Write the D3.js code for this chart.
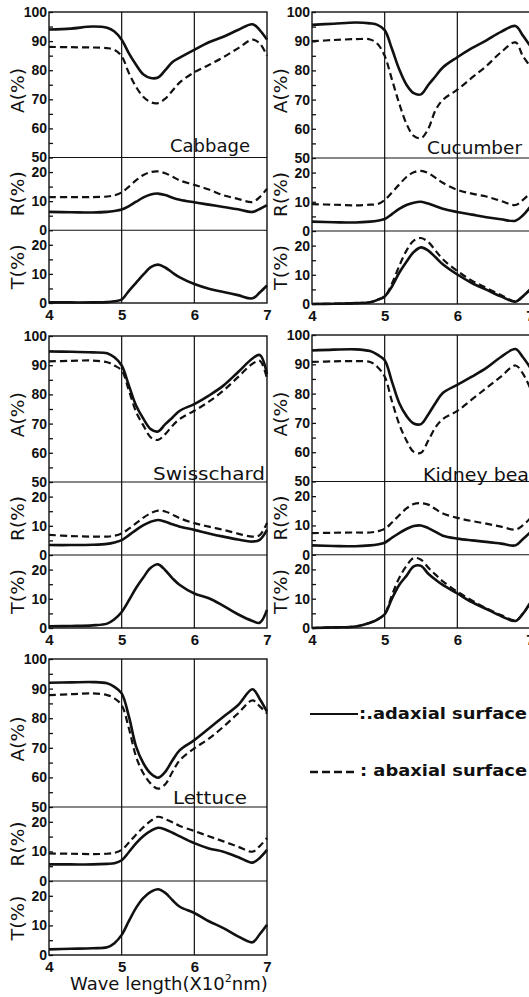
<!DOCTYPE html>
<html><head><meta charset="utf-8">
<script src="https://cdn.jsdelivr.net/npm/d3@7"></script>
<style>body{margin:0;background:#fff}svg{display:block}</style>
</head><body>
<svg id="c" width="529" height="997"></svg>
<script>
// ---------- DATA ----------
const wavelengths = [4.0,4.3,4.6,4.8,4.9,5.0,5.1,5.2,5.3,5.4,5.5,5.6,5.7,5.8,6.0,6.2,6.4,6.6,6.8,6.9,7.0];
const xTickValues = [4,5,6,7];
const gridWavelengths = [5,6];
const aTickValues = [50,55,60,65,70,75,80,85,90,95,100];
const rTickValues = [0,5,10,15,20];
const tTickValues = [0,5,10,15,20];
const plantNames = ["Cabbage","Cucumber","Swisschard","Kidney bean","Lettuce"];
const legendLabels = [":.adaxial surface",": abaxial surface"];

// Cabbage
const cabbageA_ad = [94,94.3,95,94.6,93.3,90.5,85.8,81.8,78.5,77.3,77.5,80,82.8,84.3,87,89.6,91.5,93.8,95.8,93.8,90.5];
const cabbageA_ab = [88,87.9,87.8,87.6,87,84.8,79,74.2,70.8,69,68.7,70.2,73,75.8,79.3,81.8,84.5,87.5,90.5,89.2,85];
const cabbageR_ad = [6.3,6.2,6.1,6.3,6.6,7.1,8.3,9.8,11.3,12.3,12.6,12.1,11.2,10.5,9.6,8.8,8,7.2,6.3,7.3,8.6];
const cabbageR_ab = [11.4,11.4,11.4,11.6,12,13,15,17.2,19,20,20.2,19.6,18.4,17.1,15.6,14,12,10.8,9.7,11.4,14.3];
const cabbageT_ad = [0.2,0.2,0.2,0.3,0.6,1.2,4.2,7,9.8,12.3,13.2,12.2,10.4,8.8,6.5,4.9,3.8,2.7,1.6,3.6,6];
// Cucumber
const cucumberA_ad = [95.6,96,96.4,96.1,95.6,93.8,87.4,80.4,75.1,72.2,71.8,75,78,81,84.5,87.6,90.3,93.2,95.2,92,88.5];
const cucumberA_ab = [90,90.4,90.7,90.6,89.1,85,76.9,68.7,61.7,57.6,56.8,60,66.4,69.9,73.4,77.5,81.5,86.2,89.6,85,81.5];
const cucumberR_ad = [3.2,3,2.9,3.2,3.5,4.1,5.8,7.6,8.9,9.7,10,9.4,8.5,7.6,6.5,5.6,4.7,4,3.5,5.3,8.2];
const cucumberR_ab = [9.2,9,8.8,9,9.2,10.6,13.2,15.9,18.5,20.1,20.6,19.8,18.2,16.5,14.1,12.8,11.8,10.3,8.9,10.6,12.9];
const cucumberT_ad = [0,0.1,0.3,0.6,1.4,2.6,6,10.7,14.5,17.8,19.4,18.3,16,13.6,10.1,7.2,4.9,2.6,0.8,2.6,4.9];
const cucumberT_ab = [0,0.1,0.3,0.6,1.4,2.6,7,13,18.3,21.7,22.6,21.2,18.3,15.3,11.3,8,5.5,3.1,0.9,2.6,4.9];
// Swisschard
const swisschardA_ad = [94.7,94.6,94.4,94.1,92.7,89.9,83,76.1,71.6,68.1,67.3,69.8,72.1,74.4,76.7,79.6,83,87.6,92.3,93.5,87];
const swisschardA_ab = [91.3,91.5,91.6,91,89.9,88.2,81.3,73.9,69.3,65.3,64.4,66.4,69.3,71.6,74.4,77.5,81.3,85.9,90.5,91.5,85.5];
const swisschardR_ad = [3.4,3.4,3.5,3.8,4.3,5.1,6.8,8.6,10.2,11.4,12,11.4,10.5,9.7,8.6,7.4,6.3,5.3,4.6,5.2,8.6];
const swisschardR_ab = [6.9,6.5,6.3,6.3,6.6,7.4,9,10.9,12.8,14.3,15.2,14.9,13.8,12.6,10.9,9.7,8.6,7.3,6.3,6.8,11];
const swisschardT_ad = [0.6,0.7,0.9,1.5,3,5.5,9.5,13.8,17.4,20.6,21.8,19.8,17,14.7,11.8,10.2,7.6,4.7,2.4,1.8,6.2];
// Kidney bean
const kidneyA_ad = [94.7,95,95.1,94.5,93.3,91.4,84.1,76.8,72.4,69.8,69.6,72.9,76.8,80.2,83,85.8,88.8,92.5,95.2,92.5,89];
const kidneyA_ab = [90.8,91,91.1,90.8,89.1,85.8,77.4,69.6,64,60.1,59.8,64,68.5,71.3,74.1,78,81.9,85.8,89.6,86.9,82];
const kidneyR_ad = [3.2,3,2.9,3.2,3.5,4.1,5.8,7.4,8.8,9.8,10,9.1,7.8,6.5,5.5,4.9,4.4,3.8,3.2,5.3,7.6];
const kidneyR_ab = [7.4,7.5,7.6,7.6,8,8.8,11,13.5,15.8,17.3,17.6,17.1,15.6,14.1,12.6,11.5,10.6,9.6,8.6,10,12.4];
const kidneyT_ad = [0,0.2,0.5,1.8,2.9,4.7,10,14.7,17.8,21,21.2,18.5,16.5,14.7,11.8,8.8,6.5,4.1,2.4,4.8,8.5];
const kidneyT_ab = [0,0.2,0.5,1.8,2.9,4.7,11.2,17.1,21.2,23.9,23.3,20.6,18.2,15.9,12.4,9.4,6.7,4.4,2.6,4.8,8.5];
// Lettuce
const lettuceA_ad = [92,92.1,92.2,91.8,90.6,88.4,80.5,70.3,64.7,61.3,59.9,61.9,65.8,69.2,72.6,76.5,80.5,84.4,89.8,86.5,82.2];
const lettuceA_ab = [87.8,88.1,88.4,87.8,86.7,84.4,76.5,66.9,61.3,57.9,56.2,57.7,61.9,65.8,69.8,73.1,77.1,81.6,86,84,81.6];
const lettuceR_ad = [5.6,5.6,5.6,5.8,6,7,9.8,12.8,15.2,16.9,18,17.4,16.3,15.1,12.8,11,9.9,8.1,6.2,7.8,10.5];
const lettuceR_ab = [9.3,9.2,9.1,9.2,9.5,10.5,13,15.7,18.2,20.3,21.7,20.9,19.8,18.6,16.9,15.1,13.4,11.6,9.9,11.8,14.5];
const lettuceT_ad = [1.9,2.1,2.3,2.6,4,6.8,11.5,16,19.3,21.3,22.2,21,18.5,16.3,14.2,11.4,9.1,6.3,4.3,7,10.2];

const panelSeries = [
  {A:[cabbageA_ad,cabbageA_ab], R:[cabbageR_ad,cabbageR_ab], T:[cabbageT_ad]},
  {A:[cucumberA_ad,cucumberA_ab], R:[cucumberR_ad,cucumberR_ab], T:[cucumberT_ad,cucumberT_ab]},
  {A:[swisschardA_ad,swisschardA_ab], R:[swisschardR_ad,swisschardR_ab], T:[swisschardT_ad]},
  {A:[kidneyA_ad,kidneyA_ab], R:[kidneyR_ad,kidneyR_ab], T:[kidneyT_ad,kidneyT_ab]},
  {A:[lettuceA_ad,lettuceA_ab], R:[lettuceR_ad,lettuceR_ab], T:[lettuceT_ad]}
];

// ---------- LAYOUT ----------
const layout = [
  {x0:49, x1:267, y0:12,  y1:303, lx:250, ly:152, lw:80},
  {x0:312,x1:530, y0:12,  y1:304, lx:522, ly:154, lw:95},
  {x0:49, x1:267, y0:336, y1:628, lx:265, ly:480, lw:112},
  {x0:312,x1:530, y0:335, y1:628, lx:541, ly:481, lw:118},
  {x0:49, x1:267, y0:659, y1:955, lx:247, ly:804, lw:74}
];
const FONT = "'Liberation Sans', Arial, sans-serif";
const FONT2 = "'DejaVu Sans', sans-serif";

const svg = d3.select("#c");

layout.forEach((L, i) => {
  const H = L.y1 - L.y0;
  const yA50 = L.y0 + H*0.5, yR0 = L.y0 + H*0.75;
  const x = d3.scaleLinear().domain([4,7]).range([L.x0, L.x1]);
  const yA = d3.scaleLinear().domain([50,100]).range([yA50, L.y0]);
  const yR = d3.scaleLinear().domain([0,25]).range([yR0, yA50]);
  const yT = d3.scaleLinear().domain([0,25]).range([L.y1, yR0]);
  const g = svg.append("g");

  g.append("rect").attr("x",L.x0).attr("y",L.y0).attr("width",L.x1-L.x0).attr("height",H)
    .attr("fill","none").attr("stroke","#111").attr("stroke-width",1.4);
  [yA50, yR0].forEach(yy => g.append("line").attr("x1",L.x0).attr("x2",L.x1).attr("y1",yy).attr("y2",yy)
    .attr("stroke","#111").attr("stroke-width",1.2));
  gridWavelengths.forEach(w => g.append("line").attr("x1",x(w)).attr("x2",x(w)).attr("y1",L.y0).attr("y2",L.y1)
    .attr("stroke","#111").attr("stroke-width",1.2));

  const mk = (scale, vals) => {
    const ax = d3.axisLeft(scale).tickValues(vals).tickSizeInner(-4).tickSizeOuter(0).tickPadding(2)
      .tickFormat(d => d % 10 === 0 ? String(d) : "");
    const a = g.append("g").attr("transform",`translate(${L.x0},0)`).call(ax);
    a.select(".domain").remove();
    a.selectAll("line").attr("stroke","#111").attr("stroke-width",1.3);
    a.selectAll("text").attr("font-family",FONT).attr("font-weight","bold").attr("font-size",14).attr("fill","#111");
  };
  mk(yA, aTickValues);
  mk(yR, rTickValues);
  mk(yT, tTickValues);

  const xa = d3.axisBottom(x).tickValues(xTickValues).tickSize(0).tickPadding(6).tickFormat(d3.format("d"));
  const xg = g.append("g").attr("transform",`translate(0,${L.y1})`).call(xa);
  xg.select(".domain").remove();
  xg.selectAll("text").attr("font-family",FONT).attr("font-weight","bold").attr("font-size",15).attr("fill","#111");

  const tx = L.x0 - 31;
  [["A(%)", L.y0 + H*0.27], ["R(%)", L.y0 + H*0.625], ["T(%)", L.y0 + H*0.875]].forEach(([t, cy]) => {
    g.append("text").attr("transform",`translate(${tx},${cy}) rotate(-90)`)
      .attr("text-anchor","middle").attr("dominant-baseline","central")
      .attr("font-family",FONT2).attr("font-size",17).attr("fill","#111")
      .attr("textLength",45).attr("lengthAdjust","spacingAndGlyphs").text(t);
  });

  g.append("text").attr("x",L.lx).attr("y",L.ly).attr("text-anchor","end")
    .attr("font-family",FONT2).attr("font-size",17).attr("fill","#111")
    .attr("textLength",L.lw).attr("lengthAdjust","spacingAndGlyphs").text(plantNames[i]);

  const S = panelSeries[i];
  const draw = (arr, yScale) => arr.forEach((vals, k) => {
    const line = d3.line().x((d,j) => x(wavelengths[j])).y(d => yScale(d)).curve(d3.curveCatmullRom.alpha(0.5));
    g.append("path").attr("d", line(vals)).attr("fill","none").attr("stroke","#111")
      .attr("stroke-width", k === 0 ? 2.6 : 2.2)
      .attr("stroke-dasharray", k === 0 ? null : "7,4")
      .attr("stroke-linejoin","round");
  });
  draw(S.A, yA); draw(S.R, yR); draw(S.T, yT);
});

const xt = svg.append("text").attr("x",70).attr("y",990)
  .attr("font-family",FONT2).attr("font-size",18).attr("fill","#111");
xt.append("tspan").text("Wave length(X10");
xt.append("tspan").attr("font-size",11).attr("dx",0).attr("dy",-8).text("2");
xt.append("tspan").attr("dy",8).attr("dx",0).text("nm)");

const lg = svg.append("g");
lg.append("line").attr("x1",310).attr("x2",358).attr("y1",714).attr("y2",714).attr("stroke","#111").attr("stroke-width",2.2);
lg.append("text").attr("x",359).attr("y",719).attr("font-family",FONT2).attr("font-weight","bold").attr("font-size",16)
  .attr("fill","#111").attr("textLength",168).attr("lengthAdjust","spacingAndGlyphs").text(legendLabels[0]);
lg.append("line").attr("x1",310).attr("x2",356).attr("y1",772).attr("y2",772).attr("stroke","#111").attr("stroke-width",2.4)
  .attr("stroke-dasharray","8,4");
lg.append("text").attr("x",360).attr("y",776).attr("font-family",FONT2).attr("font-weight","bold").attr("font-size",16)
  .attr("fill","#111").attr("textLength",167).attr("lengthAdjust","spacingAndGlyphs").text(legendLabels[1]);
</script>
</body></html>
